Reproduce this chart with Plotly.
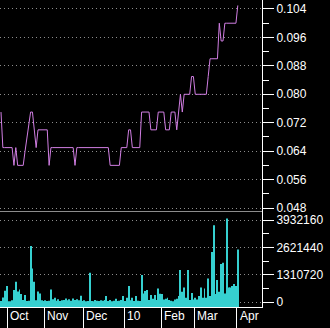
import pandas as pd
import plotly.graph_objects as go

# ---- data -------------------------------------------------------------
holidays = ["2009-10-01", "2009-10-26", "2009-12-25", "2010-01-01",
            "2010-02-15", "2010-02-16"]
dates = [d for d in pd.bdate_range("2009-09-25", "2010-04-01")
         if d.strftime("%Y-%m-%d") not in holidays]

price = (
    [0.075] + [0.065] * 6 + [0.060, 0.065] + [0.060] * 4
    + [0.064, 0.068, 0.072, 0.075, 0.075, 0.070, 0.065]
    + [0.070] * 6 + [0.060] + [0.065] * 13 + [0.060] + [0.065] * 18
    + [0.060] * 6 + [0.065] * 4 + [0.070] * 2 + [0.065] * 5
    + [0.075] * 5 + [0.070] * 4 + [0.075] * 4 + [0.070] * 3 + [0.075] * 3
    + [0.070, 0.075, 0.080, 0.075] + [0.080] * 4 + [0.085] * 2
    + [0.080] * 7 + [0.085] + [0.090] * 5 + [0.100] + [0.095] * 2
    + [0.100] * 7 + [0.105]
)

volume = [
    50000, 220000, 540000, 770000, 30000, 30000, 80000, 570000, 970000, 500000,
    600000, 380000, 100000, 330000, 50000, 60000, 2680000, 1610000, 970000, 80000,
    500000, 410000, 80000, 50000, 80000, 50000, 60000, 600000, 130000, 200000,
    60000, 130000, 50000, 80000, 100000, 170000, 80000, 130000, 60000, 170000,
    100000, 130000, 80000, 300000, 50000, 80000, 30000, 50000, 1400000, 50000,
    40000, 100000, 60000, 50000, 80000, 60000, 100000, 290000, 50000, 100000,
    40000, 60000, 150000, 50000, 60000, 100000, 290000, 50000, 200000, 770000,
    80000, 200000, 50000, 290000, 60000, 50000, 1290000, 410000, 530000, 570000,
    100000, 330000, 150000, 330000, 100000, 650000, 400000, 380000, 120000, 150000,
    200000, 90000, 60000, 30000, 120000, 150000, 290000, 1530000, 490000, 700000,
    200000, 1530000, 100000, 430000, 120000, 200000, 120000, 290000, 700000, 200000,
    650000, 200000, 1130000, 290000, 2400000, 3680000, 380000, 1050000, 490000, 1820000,
    1880000, 410000, 4000000, 700000, 700000, 770000, 860000, 770000, 2520000,
]

month_names = {1: "10", 2: "Feb", 3: "Mar", 4: "Apr", 10: "Oct", 11: "Nov", 12: "Dec"}

# ---- derived ----------------------------------------------------------
x = list(range(len(dates)))
tick_pos, tick_txt = [], []
for i in range(1, len(dates)):
    if dates[i].month != dates[i - 1].month:
        tick_pos.append(i - 0.5)
        tick_txt.append(month_names[dates[i].month])

vol_floor = -239765
vol_top = 4363737
price_range = [0.04716, 0.10653]
xr = [-0.54, 141.08]
split = (307 - 211) / 307

fig = go.Figure()
fig.add_trace(go.Scatter(x=x, y=price, mode="lines",
                         line=dict(color="#d17ee3", width=1),
                         xaxis="x", yaxis="y", hoverinfo="skip"))
fig.add_trace(go.Bar(x=x, y=[v - vol_floor for v in volume], base=vol_floor,
                     width=0.5, marker=dict(color="#36d0d0", line=dict(width=0)),
                     xaxis="x2", yaxis="y2", hoverinfo="skip"))

white12 = dict(color="white", size=12, family="Liberation Sans, Arial")
grid = dict(showgrid=True, gridcolor="#8c8c8c", griddash="1px,3px", gridwidth=1)

for pos, txt in zip(tick_pos, tick_txt):
    fig.add_annotation(x=pos, xref="x2", y=0, yref="paper", text=txt,
                       showarrow=False, xanchor="left", yanchor="top",
                       xshift=1, yshift=0, font=white12)

fig.update_layout(
    width=330, height=328,
    margin=dict(l=0, r=68, t=0, b=21),
    paper_bgcolor="black", plot_bgcolor="black",
    showlegend=False,
    font=dict(family="Liberation Sans, Arial", color="white", size=12),
    xaxis=dict(domain=[0, 1], range=xr, anchor="y", showline=True,
               linecolor="#8c8c8c", linewidth=1, showgrid=False,
               showticklabels=False, ticks="", zeroline=False),
    xaxis2=dict(domain=[0, 1], range=xr, anchor="y2", showline=True,
                linecolor="white", linewidth=1, ticks="outside", ticklen=21,
                tickcolor="white", tickwidth=1, tickmode="array",
                tickvals=tick_pos, showticklabels=False, showgrid=False,
                zeroline=False),
    yaxis=dict(domain=[split, 1], range=price_range, side="right", anchor="x",
               tick0=0, dtick=0.008, tickformat=".3f", ticks="outside",
               ticklen=11, tickcolor="white", showline=True, linecolor="white",
               zeroline=False, tickfont=white12,
               minor=dict(dtick=0.004, tick0=0, ticklen=6, tickcolor="white",
                          ticks="outside", showgrid=False),
               **grid),
    yaxis2=dict(domain=[0, split], range=[vol_floor, vol_top], side="right",
                anchor="x2", tick0=0, dtick=1310720, tickformat="d",
                ticks="outside", ticklen=11, tickcolor="white", showline=True,
                linecolor="white", zeroline=False, tickfont=white12,
                minor=dict(dtick=655360, tick0=0, ticklen=6, tickcolor="white",
                           ticks="outside", showgrid=False),
                **grid),
)

fig.write_html("out.html")
